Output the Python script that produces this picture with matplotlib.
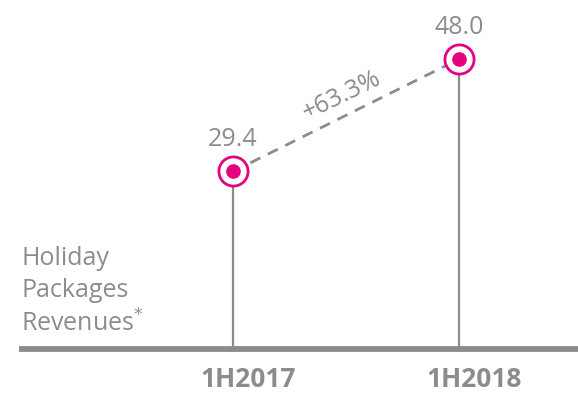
import matplotlib.pyplot as plt

# Holiday packages revenues, first half of year
periods = ['1H2017', '1H2018']
revenues = [29.4, 48.0]
growth_label = '+63.3%'
title_lines = ['Holiday', 'Packages', 'Revenues$^{*}$']

gray = '#8c8c8c'
pink = '#e6007e'
plt.rcParams['font.family'] = ['Open Sans', 'DejaVu Sans']

fig = plt.figure(figsize=(5.78, 3.93), dpi=100)
# axes spans from left rule start to right edge, bottom sits on the base line
ax = fig.add_axes([19 / 578, 44 / 393, 559 / 578, 349 / 393])
ax.set_xlim(-0.947, 1.527)
ax.set_ylim(0, 57.8)
ax.axis('off')

x = list(range(len(periods)))

# stems from the base line up to each value
for xi, v in zip(x, revenues):
    ax.plot([xi, xi], [0, v], color=gray, lw=1.6, zorder=1, solid_capstyle='butt')

# dashed connector between the two points
ax.plot(x, revenues, color=gray, lw=2, ls=(0, (4, 3)), zorder=1)

# base line (not clipped, it sits on the axes edge)
ax.axhline(0, color=gray, lw=4.2, zorder=2, clip_on=False, solid_capstyle='butt')

# ring markers with a dot inside
ax.scatter(x, revenues, s=21 ** 2, facecolor='white', edgecolor=pink, linewidth=2, zorder=3)
ax.scatter(x, revenues, s=9.5 ** 2, color=pink, zorder=4)

for xi, v in zip(x, revenues):
    ax.annotate('%.1f' % v, (xi, v), xytext=(0, 14), textcoords='offset points',
                ha='center', va='bottom', fontsize=18, color=gray)
    ax.annotate(periods[xi], (xi, 0), xytext=(11, -22), textcoords='offset points',
                ha='center', va='center', fontsize=19, color=gray, fontweight='bold')

# growth label along the connector
ax.annotate(growth_label, ((x[0] + x[1]) / 2, (revenues[0] + revenues[1]) / 2),
            xytext=(-3, 14), textcoords='offset points', ha='center', va='center',
            rotation=26, rotation_mode='anchor', fontsize=18, color=gray)

fig.text(21 / 578, 1 - 246 / 393, '\n'.join(title_lines), ha='left', va='top',
         fontsize=18, color=gray, linespacing=1.36)

fig.savefig('out.png', dpi=100)
